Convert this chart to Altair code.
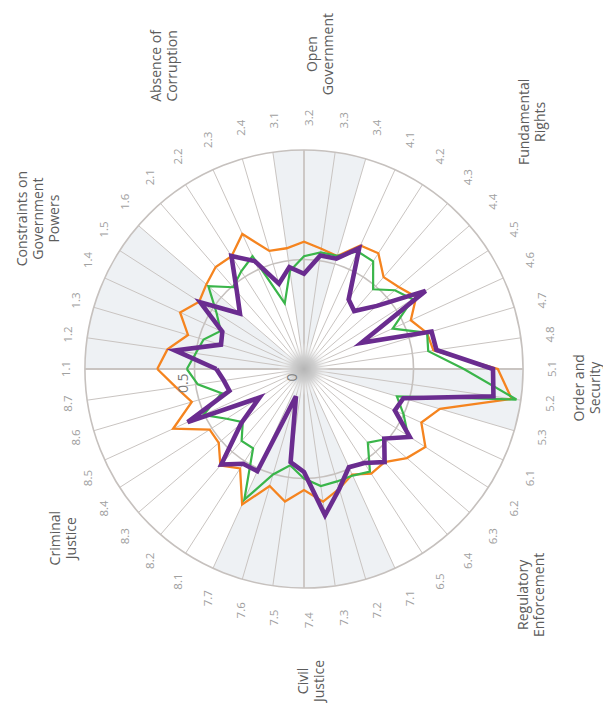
import math
import altair as alt
import pandas as pd

# ---------------- data ----------------
subfactors = ["1.1", "1.2", "1.3", "1.4", "1.5", "1.6",
              "2.1", "2.2", "2.3", "2.4",
              "3.1", "3.2", "3.3", "3.4",
              "4.1", "4.2", "4.3", "4.4", "4.5", "4.6", "4.7", "4.8",
              "5.1", "5.2", "5.3",
              "6.1", "6.2", "6.3", "6.4", "6.5",
              "7.1", "7.2", "7.3", "7.4", "7.5", "7.6", "7.7",
              "8.1", "8.2", "8.3", "8.4", "8.5", "8.6", "8.7"]

orange = [0.67, 0.63, 0.552, 0.622, 0.569, 0.59,
          0.616, 0.612, 0.678, 0.562,
          0.557, 0.581, 0.555, 0.537,
          0.62, 0.628, 0.555, 0.572, 0.609, 0.536, 0.585, 0.597,
          0.885, 0.958, 0.647,
          0.589, 0.659, 0.621, 0.562, 0.568,
          0.53, 0.57, 0.612, 0.553, 0.611, 0.557, 0.68,
          0.54, 0.583, 0.515, 0.512, 0.657, 0.534, 0.59]

green = [0.535, 0.50, 0.478, 0.418, 0.475, 0.578,
         0.494, 0.53, 0.566, 0.312,
         0.452, 0.515, 0.538, 0.539,
         0.59, 0.584, 0.482, 0.549, 0.59, 0.445, 0.586, 0.573,
         0.73, 0.98, 0.442,
         0.50, 0.565, 0.49, 0.445, 0.557,
         0.535, 0.535, 0.54, 0.50, 0.444, 0.502, 0.656,
         0.43, 0.435, 0.37, 0.42, 0.505, 0.392, 0.49]

purple = [0.40, 0.595, 0.395, 0.41, 0.563, 0.387,
          0.468, 0.613, 0.542, 0.406,
          0.47, 0.435, 0.524, 0.525,
          0.607, 0.377, 0.35, 0.44, 0.66, 0.288, 0.607, 0.611,
          0.863, 0.874, 0.473,
          0.456, 0.574, 0.485, 0.562, 0.51,
          0.493, 0.571, 0.675, 0.47, 0.43, 0.13, 0.513,
          0.514, 0.577, 0.38, 0.241, 0.584, 0.355, 0.37]

pillar_names = ["Constraints on\nGovernment\nPowers", "Absence of\nCorruption",
                "Open\nGovernment", "Fundamental\nRights", "Order and\nSecurity",
                "Regulatory\nEnforcement", "Civil\nJustice", "Criminal\nJustice"]
shaded_pillars = ["1", "3", "5", "7"]
radial_ticks = [0, 0.5]

# ---------------- layout ----------------
N = len(subfactors)
R = 219.0                     # pixels for value 1
W, H = 595, 695
ox, oy = 296, 361             # centre inside plot area
xdom = [-ox / R, (W - ox) / R]
ydom = [-(H - oy) / R, oy / R]
xs = alt.Scale(domain=xdom, nice=False, zero=False)
ys = alt.Scale(domain=ydom, nice=False, zero=False)
sub_label_r = 1.11
LH = 16                       # pillar label line height (px)
# label placement (degrees clockwise from the 1.1 axis, radius in value units)
pillar_label_angle = [29.6, 65.4, 93.1, 132.8, 183.8, 224.7, 268.5, 324.8]
pillar_label_radius = [1.39, 1.522, 1.44, 1.538, 1.30, 1.466, 1.425, 1.34]

def X(f):
    return alt.X(f, type="quantitative", scale=xs, axis=None)

def Y(f):
    return alt.Y(f, type="quantitative", scale=ys, axis=None)

ANG = f"datum.i * 2 * PI / {N}"

# shaded sectors
shade_rows = []
for p in shaded_pillars:
    idx = [k for k, s in enumerate(subfactors) if s.split(".")[0] == p]
    shade_rows.append({"start": idx[0], "end": idx[-1], "cx": 0, "cy": 0})
shade = alt.Chart(pd.DataFrame(shade_rows)).transform_calculate(
    th1=f"datum.start * 2 * PI / {N} - PI / 2",
    th2=f"datum.end * 2 * PI / {N} - PI / 2",
).mark_arc(color="#eef1f4", strokeWidth=0).encode(
    x=X("cx"), y=Y("cy"),
    theta=alt.Theta("th1:Q", scale=None), theta2="th2:Q",
    radius=alt.value(R), radius2=alt.value(0),
)

# spokes
spoke_df = pd.DataFrame({"i": list(range(N)), "label": subfactors})
spoke_df["w"] = [1.8 if k % (N // 4) == 0 else 1.0 for k in range(N)]
spokes = alt.Chart(spoke_df).transform_calculate(
    t=ANG).transform_calculate(
    x0="0", y0="0", x2="-cos(datum.t)", y2="sin(datum.t)"
).mark_rule(color="#c9c4c1").encode(
    x=X("x0"), y=Y("y0"), x2="x2:Q", y2="y2:Q",
    strokeWidth=alt.StrokeWidth("w:Q", scale=None),
)

# rings at 0.5 and 1
centre_df = pd.DataFrame({"cx": [0], "cy": [0]})
def ring(r):
    return alt.Chart(centre_df).mark_arc(
        filled=False, stroke="#c6c1be", strokeWidth=1.6
    ).encode(
        x=X("cx"), y=Y("cy"),
        theta=alt.value(0), theta2=alt.value(2 * math.pi),
        radius=alt.value(r * R), radius2=alt.value(r * R),
    )
rings = [ring(t) for t in radial_ticks if t > 0] + [ring(1.0)]

# centre glow
blob = alt.Chart(centre_df).mark_point(
    shape="circle", filled=True, size=2800, opacity=1, strokeWidth=0,
    fill=alt.Gradient(gradient="radial", stops=[
        alt.GradientStop(offset=0, color="#b5b5b5"),
        alt.GradientStop(offset=0.45, color="#cfcfcf"),
        alt.GradientStop(offset=1, color="rgba(255,255,255,0)")]),
).encode(x=X("cx"), y=Y("cy"))

def series_chart(vals, color, width):
    rows = [{"k": k, "i": k % N, "v": vals[k % N]} for k in range(N + 1)]
    return alt.Chart(pd.DataFrame(rows)).transform_calculate(
        t=ANG).transform_calculate(
        x="-datum.v * cos(datum.t)", y="datum.v * sin(datum.t)"
    ).mark_line(color=color, strokeWidth=width, strokeJoin="miter").encode(
        x=X("x"), y=Y("y"), order="k:Q")

line_o = series_chart(orange, "#f5841f", 2.3)
line_g = series_chart(green, "#3ab54a", 2.2)
line_p = series_chart(purple, "#6a2c8f", 4.6)

# sub-factor labels: upper half grows upward, lower half downward, sides centred
lab = alt.Chart(spoke_df).transform_calculate(
    t=ANG).transform_calculate(
    lx=f"-{sub_label_r} * cos(datum.t)", ly=f"{sub_label_r} * sin(datum.t)",
    s="sin(datum.t)")
sub_kw = dict(angle=270, fontSize=11.5, color="#a0a0a0", font="Open Sans", baseline="top")
sub_up = lab.transform_filter("datum.s >= 0.3").mark_text(align="left", **sub_kw).encode(
    x=X("lx"), y=Y("ly"), text="label:N")
sub_mid = lab.transform_filter("abs(datum.s) < 0.3").mark_text(align="center", **sub_kw).encode(
    x=X("lx"), y=Y("ly"), text="label:N")
sub_dn = lab.transform_filter("datum.s <= -0.3").mark_text(align="right", **sub_kw).encode(
    x=X("lx"), y=Y("ly"), text="label:N")

# pillar labels (rotated blocks: later lines stack to the right, so centre the block)
pl_df = pd.DataFrame({"name": pillar_names, "ang": pillar_label_angle,
                      "rad": pillar_label_radius,
                      "nl": [n.count("\n") for n in pillar_names]})
pillar_labels = alt.Chart(pl_df).transform_calculate(
    t="datum.ang * PI / 180").transform_calculate(
    lx=f"-datum.rad * cos(datum.t) - datum.nl * {LH / 2 / R}",
    ly="datum.rad * sin(datum.t)"
).mark_text(angle=270, fontSize=14, lineHeight=LH, color="#5c5c5c", font="Open Sans",
            lineBreak="\n", align="center", baseline="middle").encode(
    x=X("lx"), y=Y("ly"), text="name:N")

# radial tick labels
tick_df = pd.DataFrame({"t": radial_ticks, "txt": [str(t) for t in radial_ticks]})
tick_labels = alt.Chart(tick_df).transform_calculate(
    lx="-datum.t - 0.018", ly="-0.02"
).mark_text(angle=270, fontSize=14, color="#7a7a7a", font="Open Sans",
            align="right", baseline="bottom").encode(
    x=X("lx"), y=Y("ly"), text="txt:N")

chart = alt.layer(
    shade, spokes, *rings, blob, line_o, line_g, line_p,
    sub_up, sub_mid, sub_dn, pillar_labels, tick_labels
).properties(
    width=W, height=H, padding=0,
    autosize=alt.AutoSizeParams(type="none"),
    background="#ffffff",
).configure_view(stroke=None)

chart.save("out.html", embed_options={"renderer": "svg", "actions": False})
